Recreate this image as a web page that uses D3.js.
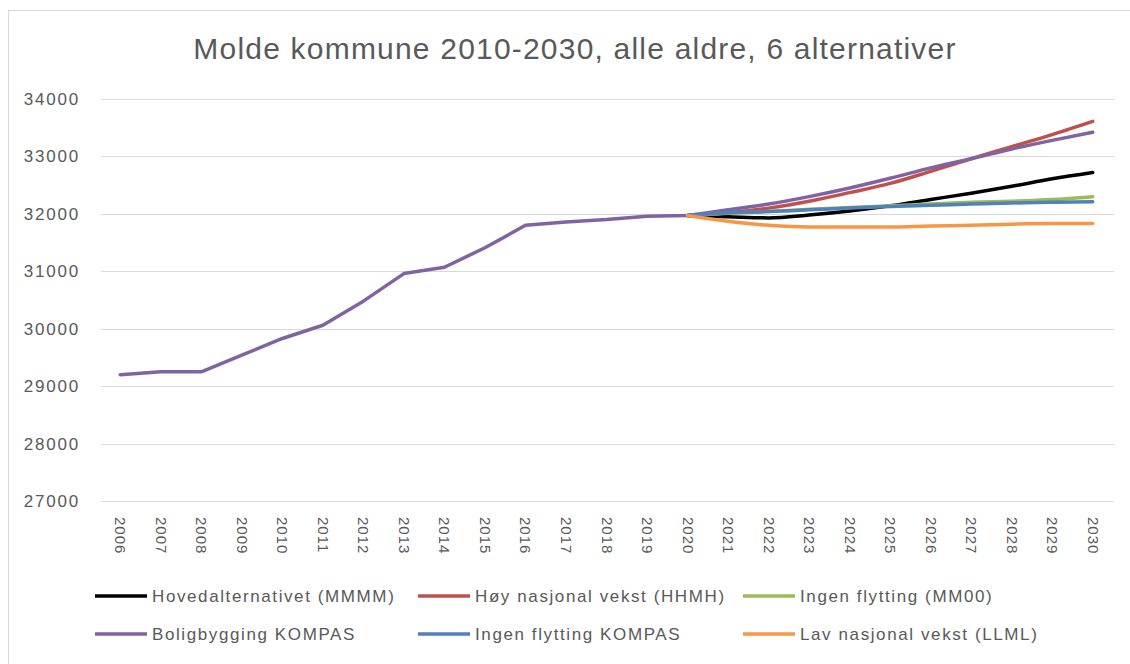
<!DOCTYPE html>
<html>
<head>
<meta charset="utf-8">
<script src="https://cdn.jsdelivr.net/npm/d3@7"></script>
<style>
  body { margin: 0; background: #fff; }
  svg text { font-family: "Liberation Sans Narrow", "Liberation Sans", sans-serif; fill: #595959; }
</style>
</head>
<body>
<svg id="chart" width="1130" height="664"></svg>
<script>
// data
var years = d3.range(2006, 2031).map(String);
var histYears = years.slice(0, 15); // 2006-2020
var projYears = years.slice(14);     // 2020-2030

var historic = [29200, 29250, 29250, 29540, 29830, 30060, 30480, 30960, 31070, 31410, 31800, 31860, 31900, 31960, 31970];

var hoved    = [31970, 31950, 31930, 31980, 32050, 32140, 32250, 32360, 32480, 32610, 32720];
var hoy      = [31970, 32020, 32100, 32220, 32370, 32530, 32740, 32960, 33170, 33380, 33610];
var ingen    = [31970, 32010, 32040, 32080, 32110, 32140, 32170, 32200, 32220, 32250, 32300];
var bolig    = [31970, 32070, 32170, 32300, 32450, 32620, 32800, 32960, 33130, 33280, 33420];
var ingenK   = [31970, 32020, 32040, 32070, 32100, 32130, 32150, 32170, 32190, 32200, 32210];
var lav      = [31970, 31870, 31800, 31770, 31770, 31770, 31790, 31800, 31820, 31830, 31830];

var seriesNames = ["Hovedalternativet (MMMM)", "Høy nasjonal vekst (HHMH)", "Ingen flytting (MM00)",
                   "Boligbygging KOMPAS", "Ingen flytting KOMPAS", "Lav nasjonal vekst (LLML)"];
var seriesColors = ["#000000", "#C0504D", "#9BBB59", "#8064A2", "#4F81BD", "#F79646"];
var yTicks = [27000, 28000, 29000, 30000, 31000, 32000, 33000, 34000];

var svg = d3.select("#chart");

// chart border
svg.append("rect")
    .attr("x", 8.5).attr("y", 10.5)
    .attr("width", 1130).attr("height", 670)
    .attr("fill", "none")
    .attr("stroke", "#d9d9d9");

var x = d3.scalePoint().domain(years).range([100, 1113]).padding(0.5);
var y = d3.scaleLinear().domain([27000, 34000]).range([501, 99]);

// gridlines
svg.append("g")
    .selectAll("line")
    .data(yTicks)
    .enter().append("line")
    .attr("x1", 101).attr("x2", 1114)
    .attr("y1", function(d) { return Math.round(y(d)) + 0.5; })
    .attr("y2", function(d) { return Math.round(y(d)) + 0.5; })
    .attr("stroke", "#d9d9d9")
    .attr("stroke-width", 1);

// y labels
svg.append("g")
    .selectAll("text")
    .data(yTicks)
    .enter().append("text")
    .attr("x", 80)
    .attr("y", function(d) { return y(d); })
    .attr("dy", "0.35em")
    .attr("text-anchor", "end")
    .style("font-size", "17px")
    .style("letter-spacing", "1.8px")
    .text(function(d) { return d; });

// x labels, rotated
svg.append("g")
    .selectAll("text")
    .data(years)
    .enter().append("text")
    .attr("transform", function(d) { return "translate(" + (x(d) - 5) + ",517) rotate(90)"; })
    .style("font-size", "15px")
    .style("letter-spacing", "1px")
    .text(function(d) { return d; });

// lines
var smooth = d3.line()
    .x(function(d) { return x(d[0]); })
    .y(function(d) { return y(d[1]); })
    .curve(d3.curveMonotoneX);
var straight = d3.line()
    .x(function(d) { return x(d[0]); })
    .y(function(d) { return y(d[1]); });

var proj = [hoved, hoy, ingen, bolig, ingenK, lav];

proj.forEach(function(vals, i) {
    var pts = projYears.map(function(yr, j) { return [yr, vals[j]]; });
    var d = smooth(pts);
    if (i === 3) {
        // historic part of Boligbygging KOMPAS
        var hist = histYears.map(function(yr, j) { return [yr, historic[j]]; });
        d = straight(hist) + smooth(pts).replace(/^M/, "L");
    }
    svg.append("path")
        .attr("d", d)
        .attr("fill", "none")
        .attr("stroke", seriesColors[i])
        .attr("stroke-width", 3.5)
        .attr("stroke-linejoin", "round")
        .attr("stroke-linecap", "round");
});

// title
svg.append("text")
    .attr("x", 575)
    .attr("y", 59)
    .attr("text-anchor", "middle")
    .style("font-size", "30px")
    .style("letter-spacing", "1.2px")
    .text("Molde kommune 2010-2030, alle aldre, 6 alternativer");

// legend
var legendCols = [95, 418, 743];
var legendRows = [596, 634];
var legend = svg.append("g")
    .selectAll("g")
    .data(seriesNames)
    .enter().append("g")
    .attr("transform", function(d, i) { return "translate(" + legendCols[i % 3] + "," + legendRows[Math.floor(i / 3)] + ")"; });

legend.append("line")
    .attr("x1", 0).attr("x2", 52)
    .attr("y1", 0).attr("y2", 0)
    .attr("stroke", function(d, i) { return seriesColors[i]; })
    .attr("stroke-width", 3.5);

legend.append("text")
    .attr("x", 57)
    .attr("dy", "0.35em")
    .style("font-size", "17px")
    .style("letter-spacing", "1.6px")
    .text(function(d) { return d; });
</script>
</body>
</html>
